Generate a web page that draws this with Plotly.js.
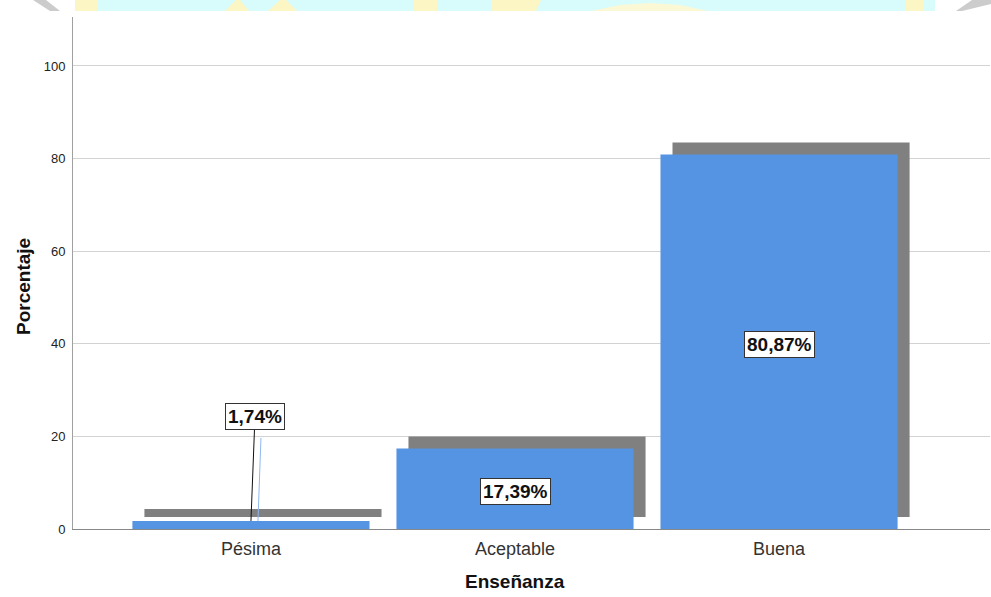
<!DOCTYPE html>
<html>
<head>
<meta charset="utf-8">
<script src="https://cdn.plot.ly/plotly-3.0.1.min.js"></script>
<style>html,body{margin:0;padding:0;background:#fff;}#chart{width:991px;height:597px;}</style>
</head>
<body>
<div id="chart"></div>
<script>
// Data
const categories = ['Pésima', 'Aceptable', 'Buena'];
const percentages = [1.74, 17.39, 80.87];
const labelTexts = ['1,74%', '17,39%', '80,87%'];
const yTickValues = [0, 20, 40, 60, 80, 100];

// Layout helpers (pixel -> paper)
const W = 991, H = 597, ML = 73, MR = 1, MT = 17, MB = 68;
const PW = W - ML - MR, PH = H - MT - MB;
const px = p => (p - ML) / PW;
const py = p => (H - MB - p) / PH;

const FONT = '"Liberation Sans", Arial, sans-serif';
const BLUE = '#5594e3';
const SHADOW = '#808080';
const barWidth = 0.898;
const shadowDx = 0.0455;   // category units
const shadowDy = 2.59;     // y units

const shadowTrace = {
  type: 'bar', x: categories, y: percentages,
  base: shadowDy, width: barWidth, offset: -barWidth / 2 + shadowDx,
  marker: {color: SHADOW, line: {width: 0}},
  hoverinfo: 'skip', showlegend: false
};
const barTrace = {
  type: 'bar', x: categories, y: percentages,
  width: barWidth, offset: -barWidth / 2,
  marker: {color: BLUE, line: {width: 0}},
  hoverinfo: 'skip', showlegend: false
};

// Value labels
const annotations = percentages.map((v, i) => {
  const a = {
    x: categories[i], y: v < 5 ? v : v / 2 - 0.5, xref: 'x', yref: 'y',
    text: '<b>' + labelTexts[i] + '</b>',
    font: {family: FONT, size: 19, color: '#111'},
    bgcolor: '#ffffff', bordercolor: '#333333', borderwidth: 1, borderpad: 2,
    showarrow: false
  };
  if (v < 5) {
    a.showarrow = true; a.arrowhead = 0; a.arrowwidth = 1; a.arrowcolor = '#111';
    a.ax = 4; a.ay = -104; a.standoff = 0;
  } else {
    a.yanchor = 'middle';
  }
  return a;
});
annotations.push({
  x: 1, y: py(581), xref: 'x', yref: 'paper', text: '<b>Enseñanza</b>',
  showarrow: false, font: {family: FONT, size: 19, color: '#111'}, yanchor: 'middle'
});
annotations.push({
  x: px(23), y: py(287), xref: 'paper', yref: 'paper', text: '<b>Porcentaje</b>',
  textangle: -90, showarrow: false, font: {family: FONT, size: 19, color: '#111'},
  xanchor: 'center', yanchor: 'middle'
});

// Decorative watermark strip at the top + thin blue leader line
function rectP(x0, x1, y0, y1, color) {
  return {type: 'rect', xref: 'paper', yref: 'paper', x0: px(x0), x1: px(x1), y0: py(y1), y1: py(y0),
          fillcolor: color, line: {width: 0}, layer: 'below'};
}
function pathP(pts, color) {
  let d = pts.map((p, i) => (i ? 'L' : 'M') + px(p[0]) + ',' + py(p[1])).join(' ') + ' Z';
  return {type: 'path', xref: 'paper', yref: 'paper', path: d, fillcolor: color, line: {width: 0}, layer: 'below'};
}
const CY = '#d8fbfb', YE = '#fbf6c4', LY = '#fbf8d6', GR = '#cccccc';
const shapes = [
  rectP(75, 935, 0, 11, CY),
  rectP(75, 97, 0, 11, YE),
  pathP([[225, 11], [236, 0], [240, 0], [249, 11]], YE),
  pathP([[268, 11], [280, 0], [286, 0], [297, 11]], YE),
  rectP(414, 437, 0, 11, YE),
  pathP([[491, 0], [541, 0], [536, 11], [491, 11]], YE),
  pathP([[591, 11], [620, 5], [650, 3], [680, 5], [708, 11]], LY),
  rectP(906, 924, 0, 11, YE),
  pathP([[33, 0], [46, 0], [60, 11], [50, 11]], GR),
  pathP([[972, 0], [991, 0], [991, 4], [962, 11], [956, 11]], GR),
  {type: 'line', xref: 'x', yref: 'y', xsizemode: 'pixel', ysizemode: 'pixel',
   xanchor: 0, yanchor: percentages[0], x0: 7, x1: 10, y0: 0, y1: 83,
   line: {color: '#8fb8f0', width: 1}}
];

const layout = {
  width: W, height: H, autosize: false,
  margin: {l: ML, r: MR, t: MT, b: MB, pad: 0},
  paper_bgcolor: '#ffffff', plot_bgcolor: '#ffffff',
  barmode: 'overlay', showlegend: false,
  font: {family: FONT},
  xaxis: {
    type: 'category', range: [-0.674, 2.799], fixedrange: true,
    showgrid: false, zeroline: false, showline: true, linecolor: '#888888', linewidth: 1,
    ticks: '', ticklabelstandoff: 3,
    tickfont: {family: FONT, size: 18, color: '#333'}
  },
  yaxis: {
    range: [0, 110.58], fixedrange: true, tickvals: yTickValues,
    showgrid: true, gridcolor: '#d3d3d3', gridwidth: 1,
    zeroline: false, showline: true, linecolor: '#a0a0a0', linewidth: 1,
    ticks: '', ticklabelstandoff: 4,
    tickfont: {family: FONT, size: 13, color: '#222'}
  },
  annotations: annotations,
  shapes: shapes
};

Plotly.newPlot('chart', [shadowTrace, barTrace], layout, {displayModeBar: false, staticPlot: true});
</script>
</body>
</html>
